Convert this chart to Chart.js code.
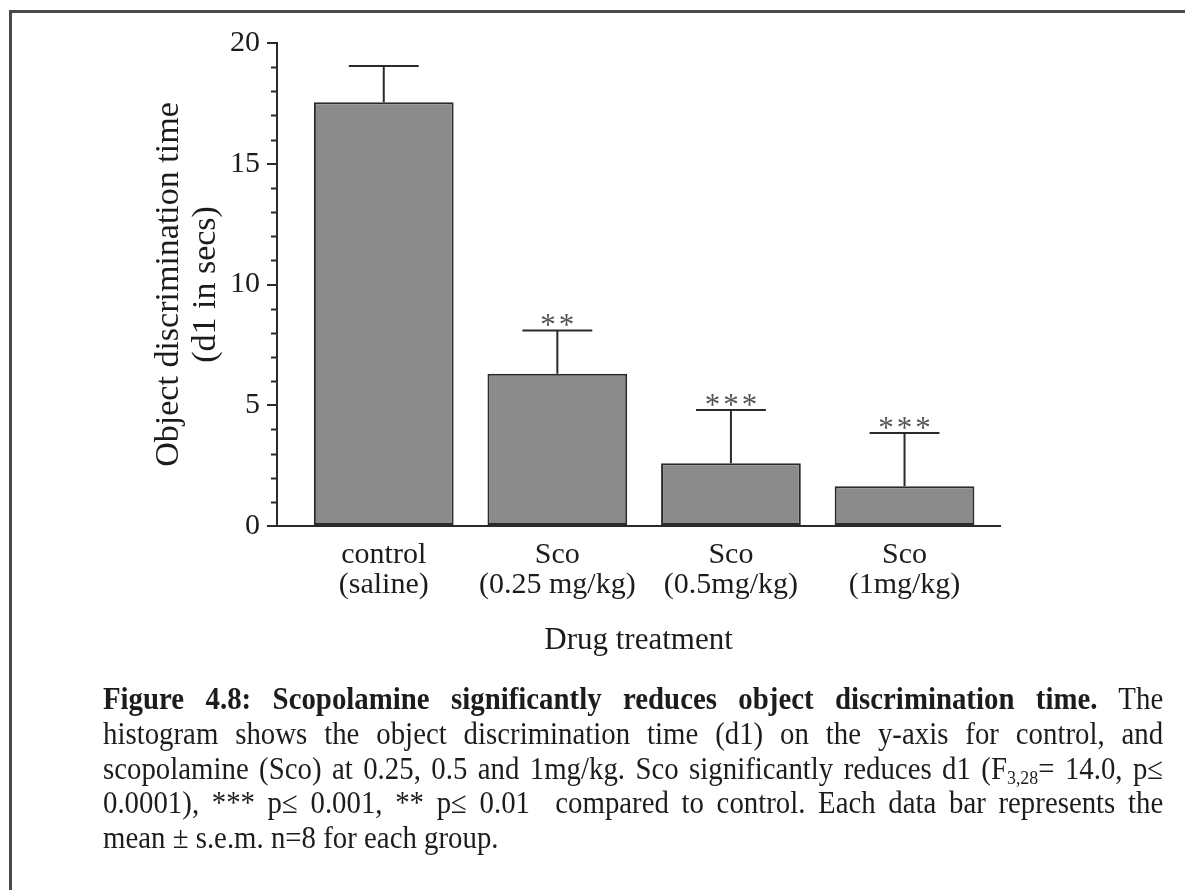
<!DOCTYPE html>
<html>
<head>
<meta charset="utf-8">
<script src="https://cdn.jsdelivr.net/npm/chart.js@4.4.1/dist/chart.umd.min.js"></script>
<style>
  html, body { margin: 0; padding: 0; background: #fff; }
  body { width: 1185px; height: 890px; position: relative; overflow: hidden;
         font-family: "Liberation Serif", "Times New Roman", serif; color: #1c1c1c; }
  #frame { position: absolute; left: 9px; top: 10px; width: 1190px; height: 900px;
           border-top: 3px solid #4a4a4a; border-left: 3px solid #4a4a4a; }
  #chart { position: absolute; left: 0; top: 0; }
  #caption { position: absolute; left: 103px; top: 682px; width: 1140px;
             font-size: 31px; line-height: 34.75px;
             transform: scaleX(0.93); transform-origin: 0 0; }
  #caption div { text-align: justify; text-align-last: justify; }
  #caption div.last { text-align-last: left; }
  sub { font-size: 0.62em; line-height: 0; vertical-align: -0.25em; }
</style>
</head>
<body>
<div id="frame"></div>
<canvas id="chart" width="1185" height="690"></canvas>
<div id="caption">
  <div><b>Figure 4.8: Scopolamine significantly reduces object discrimination time.</b> The</div>
  <div>histogram shows the object discrimination time (d1) on the y-axis for control, and</div>
  <div>scopolamine (Sco) at 0.25, 0.5 and 1mg/kg. Sco significantly reduces d1 (F<sub>3,28</sub>= 14.0, p≤</div>
  <div>0.0001), *** p≤ 0.001, ** p≤ 0.01&nbsp; compared to control. Each data bar represents the</div>
  <div class="last">mean ± s.e.m. n=8 for each group.</div>
</div>
<script>
// values
const groupNames = ['control', 'Sco', 'Sco', 'Sco'];
const doseLabels = ['(saline)', '(0.25 mg/kg)', '(0.5mg/kg)', '(1mg/kg)'];
const meanD1 = [17.55, 6.3, 2.6, 1.65];
const semD1 = [1.5, 1.8, 2.2, 2.2];
const sigMarks = ['', '**', '***', '***'];
const yTicks = [0, 5, 10, 15, 20];

const ink = '#2a2a2a';
const serif = '"Liberation Serif", "Times New Roman", serif';

// mean + s.e.m. whiskers with the significance stars on top
const errorBars = {
    id: 'errorBars',
    afterDatasetsDraw(chart) {
        const { ctx, scales: { x, y } } = chart;
        const bars = chart.getDatasetMeta(0).data;
        ctx.save();
        ctx.strokeStyle = ink;
        ctx.lineWidth = 2;
        meanD1.forEach((m, i) => {
            const cx = x.getPixelForValue(i);
            const base = y.getPixelForValue(m);
            const top = y.getPixelForValue(m + semD1[i]);
            const half = bars[i].width / 4;
            ctx.beginPath();
            ctx.moveTo(cx, base);
            ctx.lineTo(cx, top);
            ctx.moveTo(cx - half, top);
            ctx.lineTo(cx + half, top);
            ctx.stroke();
            if (sigMarks[i]) {
                ctx.fillStyle = '#555';
                ctx.font = '31px ' + serif;
                ctx.letterSpacing = '3px';
                ctx.textAlign = 'center';
                ctx.textBaseline = 'alphabetic';
                ctx.fillText(sigMarks[i], cx + 1.5, top + 5);
            }
        });
        ctx.restore();
    }
};

// short minor ticks at every unit on the y axis
const minorTicks = {
    id: 'minorTicks',
    afterDraw(chart) {
        const y = chart.scales.y;
        const x0 = chart.chartArea.left;
        const ctx = chart.ctx;
        ctx.save();
        ctx.strokeStyle = ink;
        ctx.lineWidth = 2;
        for (let v = y.min + 1; v < y.max; v++) {
            if (yTicks.includes(v)) continue;
            const py = Math.round(y.getPixelForValue(v)) + 0.5;
            ctx.beginPath();
            ctx.moveTo(x0 - 6, py);
            ctx.lineTo(x0, py);
            ctx.stroke();
        }
        ctx.restore();
    }
};

new Chart(document.getElementById('chart'), {
    type: 'bar',
    data: {
        datasets: [{
            data: meanD1.map((v, i) => ({ x: i, y: v })),
            backgroundColor: '#8b8b8b',
            borderColor: ink,
            borderWidth: 2,
            borderSkipped: false,
            barPercentage: 1,
            categoryPercentage: 0.805
        }]
    },
    options: {
        responsive: false,
        animation: false,
        layout: { padding: { left: 0, top: 43, right: 185, bottom: 0 } },
        plugins: { legend: { display: false }, tooltip: { enabled: false } },
        scales: {
            x: {
                type: 'linear',
                bounds: 'data',
                offset: false,
                min: -0.615,
                max: 3.55,
                afterBuildTicks: s => { s.ticks = doseLabels.map((_, i) => ({ value: i })); },
                afterFit: s => { s.height = 690 - 526; },
                grid: { display: false, drawTicks: false, offset: false },
                border: { display: true, color: ink, width: 2 },
                ticks: {
                    autoSkip: false,
                    maxRotation: 0,
                    padding: 14,
                    color: '#1c1c1c',
                    font: { family: serif, size: 30, lineHeight: 1.0 },
                    callback: v => [groupNames[v], doseLabels[v]]
                },
                title: {
                    display: true,
                    text: 'Drug treatment',
                    color: '#1c1c1c',
                    font: { family: serif, size: 31, lineHeight: 1.2 },
                    padding: { top: 0, bottom: 31 }
                }
            },
            y: {
                min: 0,
                max: 20,
                afterBuildTicks: s => { s.ticks = yTicks.map(v => ({ value: v })); },
                afterFit: s => { s.width = 277; },
                grid: { drawOnChartArea: false, drawTicks: true, tickLength: 10, color: ink, lineWidth: 2 },
                border: { display: true, color: ink, width: 2 },
                ticks: {
                    padding: 7,
                    color: '#1c1c1c',
                    font: { family: serif, size: 30 }
                },
                title: {
                    display: true,
                    text: ['Object discrimination time', '(d1 in secs)'],
                    color: '#1c1c1c',
                    font: { family: serif, size: 34, lineHeight: 1.1 },
                    padding: { top: 150, bottom: 0 }
                }
            }
        }
    },
    plugins: [errorBars, minorTicks]
});
</script>
</body>
</html>
